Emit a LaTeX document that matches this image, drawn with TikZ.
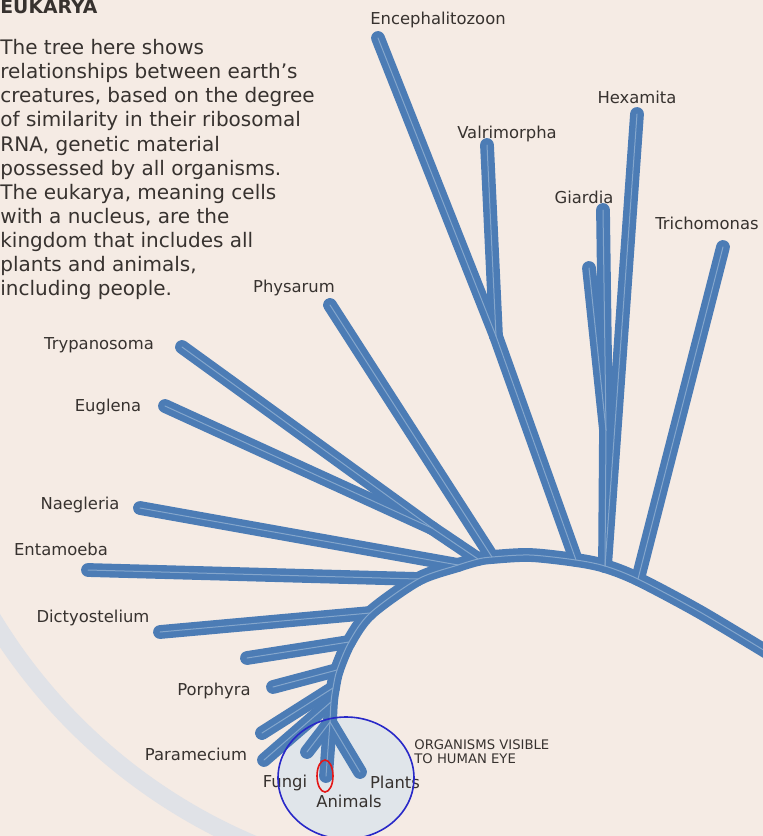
\documentclass[tikz,border=0pt]{standalone}
\usepackage{fontspec}
\setmainfont{DejaVu Sans}
\definecolor{Paper}{RGB}{245,235,228}
\definecolor{Haze}{RGB}{224,226,231}
\definecolor{Mist}{RGB}{224,229,234}
\definecolor{TreeBlue}{RGB}{76,124,181}
\definecolor{VeinBlue}{RGB}{132,166,204}
\definecolor{Ink}{RGB}{55,50,47}
\definecolor{RingBlue}{RGB}{40,40,200}
\definecolor{MarkRed}{RGB}{228,24,24}
\tikzset{
  branch/.style={line width=6.9pt,line cap=round,line join=round,TreeBlue},
  vein/.style={line width=0.5pt,line cap=round,VeinBlue},
  taxon/.style={inner sep=0pt,anchor=base,text=Ink,
    font=\fontsize{8.2}{9.8}\selectfont},
  blurb/.style={inner sep=0pt,anchor=north west,align=left,text=Ink,
    font=\fontsize{10}{12.05}\selectfont},
  caption/.style={inner sep=0pt,anchor=north west,align=left,text=Ink,
    font=\fontsize{6.6}{7}\selectfont}
}

\begin{document}
\begin{tikzpicture}[x=0.5pt,y=-0.5pt]
  \useasboundingbox (0,0) rectangle (763,836);
  \clip (0,0) rectangle (763,836);
  \fill[Paper] (0,0) rectangle (763,836);
  % faint printed ring behind the lower left
  \begin{scope}
    \clip (0,470) rectangle (330,836);
    \draw[Haze,line width=9pt] (470,330) circle[radius=279pt];
  \end{scope}
  \fill[Mist] (346,778) ellipse[x radius=34pt,y radius=30.5pt];

  % junctions along the trunk
  \coordinate (base) at (330,722);
  \coordinate (jPar) at (331,702);
  \coordinate (jU2) at (333,688);
  \coordinate (jPor) at (337,670);
  \coordinate (jU1) at (349,642);
  \coordinate (jDic) at (370,613);
  \coordinate (jEnt) at (418,579);
  \coordinate (jNae) at (458,565);
  \coordinate (jTry) at (478,559);
  \coordinate (jPhy) at (492,557);
  \coordinate (crest) at (530,555);
  \coordinate (jEnc) at (576,560);
  \coordinate (jGia) at (605,566);
  \coordinate (jTri) at (638,579);
  \coordinate (slope) at (700,612);
  \coordinate (rim) at (775,657);
  % inner forks
  \coordinate (jEug) at (432,528);
  \coordinate (jVal) at (496,336);
  \coordinate (jSib) at (606,430);
  % branch tips
  \coordinate (fungiTip) at (307,752);
  \coordinate (animalsTip) at (326,776);
  \coordinate (plantsTip) at (360,772);
  \coordinate (parTip) at (264,760);
  \coordinate (u2Tip) at (262,733);
  \coordinate (porTip) at (273,687);
  \coordinate (u1Tip) at (247,658);
  \coordinate (dicTip) at (160,632);
  \coordinate (entTip) at (88,570);
  \coordinate (naeTip) at (140,508);
  \coordinate (eugTip) at (165,406);
  \coordinate (tryTip) at (182,347);
  \coordinate (phyTip) at (330,305);
  \coordinate (encTip) at (378,38);
  \coordinate (valTip) at (487,145);
  \coordinate (hexTip) at (637,114);
  \coordinate (giaTip) at (603,210);
  \coordinate (sibTip) at (589,268);
  \coordinate (triTip) at (723,247);

  \def\edges{fungiTip/base,animalsTip/base,plantsTip/base,parTip/jPar,
    u2Tip/jU2,porTip/jPor,u1Tip/jU1,dicTip/jDic,entTip/jEnt,naeTip/jNae,
    eugTip/jEug,tryTip/jEug,jEug/jTry,phyTip/jPhy,encTip/jVal,valTip/jVal,
    jVal/jEnc,hexTip/jGia,giaTip/jSib,sibTip/jSib,jSib/jGia,triTip/jTri}

  % the tree
  \draw[branch] plot[smooth] coordinates {(base) (jPar) (jU2) (jPor) (jU1)
    (jDic) (jEnt) (jNae) (jTry) (jPhy) (crest) (jEnc) (jGia) (jTri) (slope) (rim)};
  \foreach \a/\b in \edges {\draw[branch] (\a) -- (\b);}
  \draw[vein] plot[smooth] coordinates {(base) (jPar) (jU2) (jPor) (jU1)
    (jDic) (jEnt) (jNae) (jTry) (jPhy) (crest) (jEnc) (jGia) (jTri) (slope) (rim)};
  \foreach \a/\b in \edges {\draw[vein] (\a) -- (\b);}

  % texts
  \node[inner sep=0pt,anchor=base west,text=Ink,
    font=\fontsize{9.4}{11}\selectfont\bfseries] (title) at (0,13) {EUKARYA};
  \node[blurb] (intro) at (0,39) {The tree here shows\\
    relationships between earth's\\
    creatures, based on the degree\\
    of similarity in their ribosomal\\
    RNA, genetic material\\
    possessed by all organisms.\\
    The eukarya, meaning cells\\
    with a nucleus, are the\\
    kingdom that includes all\\
    plants and animals,\\
    including people.};
  \node[taxon] (encephalitozoon) at (438,24) {Encephalitozoon};
  \node[taxon] (valrimorpha) at (507,138) {Valrimorpha};
  \node[taxon] (hexamita) at (637,103) {Hexamita};
  \node[taxon] (giardia) at (584,203) {Giardia};
  \node[taxon] (trichomonas) at (707,229) {Trichomonas};
  \node[taxon] (physarum) at (294,292) {Physarum};
  \node[taxon] (trypanosoma) at (99,349) {Trypanosoma};
  \node[taxon] (euglena) at (108,411) {Euglena};
  \node[taxon] (naegleria) at (80,509) {Naegleria};
  \node[taxon] (entamoeba) at (61,555) {Entamoeba};
  \node[taxon] (dictyostelium) at (93,622) {Dictyostelium};
  \node[taxon] (porphyra) at (214,695) {Porphyra};
  \node[taxon] (paramecium) at (196,760) {Paramecium};
  \node[taxon] (fungi) at (285,787) {Fungi};
  \node[taxon] (animals) at (349,807) {Animals};
  \node[taxon] (plants) at (395,788) {Plants};
  \node[caption] (visible) at (414,739) {ORGANISMS VISIBLE\\TO HUMAN EYE};

  % hand-drawn marks
  \draw[RingBlue,line width=0.8pt] (346,778) ellipse[x radius=34pt,y radius=30.5pt];
  \draw[MarkRed,line width=0.8pt] (325,776) ellipse[x radius=4pt,y radius=8pt];
\end{tikzpicture}
\end{document}
